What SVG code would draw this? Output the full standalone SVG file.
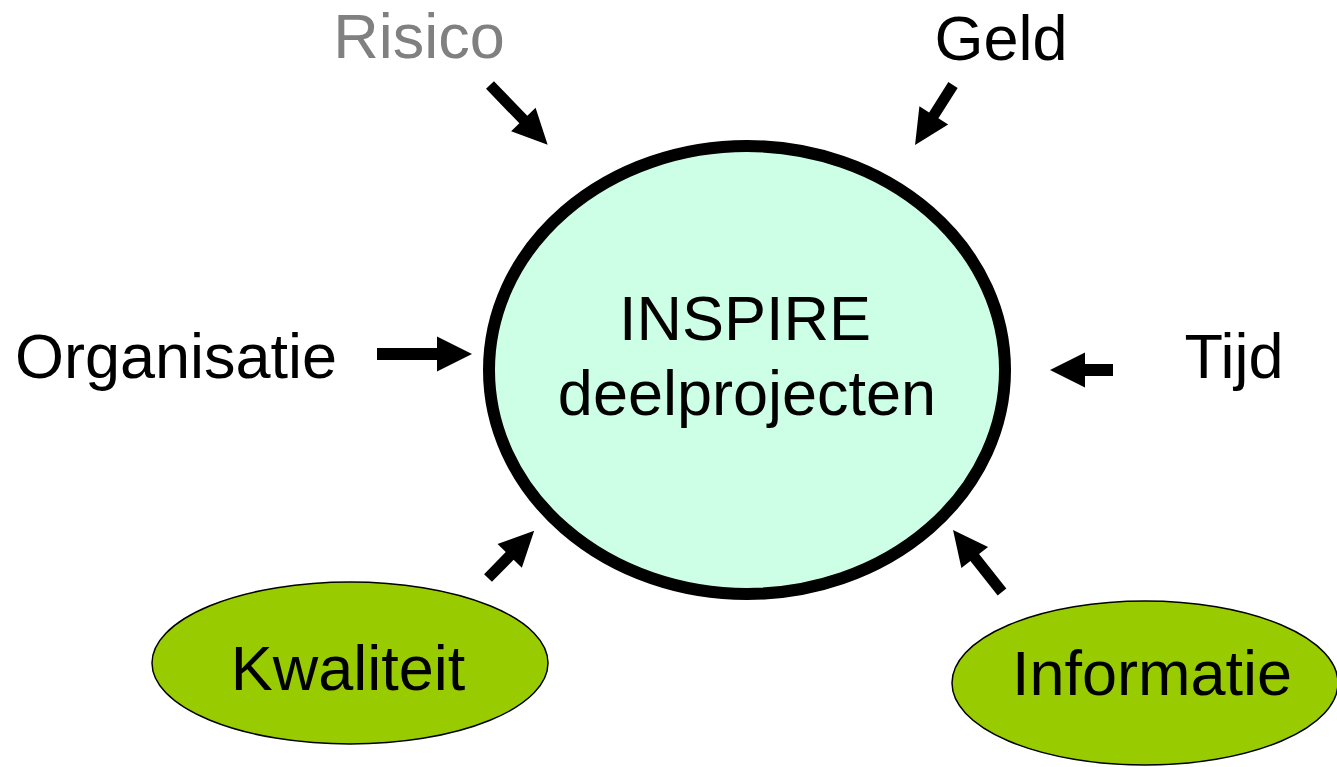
<svg xmlns="http://www.w3.org/2000/svg" width="1337" height="767" viewBox="0 0 1337 767">
<style>
text{font-family:"Liberation Sans",Arial,sans-serif;font-size:63px;fill:#000;text-anchor:middle}
.arrow{fill:#000;stroke:none}
.green{fill:#99CC00;stroke:#000;stroke-width:1.5}
</style>
<rect width="1337" height="767" fill="#fff"/>
<g id="connectors">
<path class="arrow" transform="translate(377,354)" d="M0,-6 L60,-6 L60,-17.5 L95,0 L60,17.5 L60,6 L0,6 Z"/>
<path class="arrow" transform="translate(1113,370) rotate(180)" d="M0,-6 L28,-6 L28,-17.5 L63,0 L28,17.5 L28,6 L0,6 Z"/>
<path class="arrow" transform="translate(490,85) rotate(46)" d="M0,-5.5 L48,-5.5 L48,-17 L83,0 L48,17 L48,5.5 L0,5.5 Z"/>
<path class="arrow" transform="translate(953,85) rotate(122.3)" d="M0,-5.5 L36,-5.5 L36,-17 L71,0 L36,17 L36,5.5 L0,5.5 Z"/>
<path class="arrow" transform="translate(488,578) rotate(-45.6)" d="M0,-5.5 L31,-5.5 L31,-17 L66,0 L31,17 L31,5.5 L0,5.5 Z"/>
<path class="arrow" transform="translate(1002,592) rotate(-128.3)" d="M0,-5.5 L44,-5.5 L44,-17 L79,0 L44,17 L44,5.5 L0,5.5 Z"/>
</g>
<g id="inspire">
<ellipse cx="747" cy="370" rx="258" ry="224" fill="#CCFFE6" stroke="#000" stroke-width="12"/>
<text x="745" y="340">INSPIRE</text>
<text x="747" y="415">deelprojecten</text>
</g>
<g id="kwaliteit">
<ellipse class="green" cx="350" cy="663" rx="198" ry="81"/>
<text x="348" y="690">Kwaliteit</text>
</g>
<g id="informatie">
<ellipse class="green" cx="1145" cy="683" rx="193" ry="82"/>
<text x="1152" y="695">Informatie</text>
</g>
<g id="risico"><text x="419" y="58" style="fill:#808080">Risico</text></g>
<g id="geld"><text x="1001" y="60">Geld</text></g>
<g id="organisatie"><text x="176" y="378">Organisatie</text></g>
<g id="tijd"><text x="1234" y="378">Tijd</text></g>
</svg>
